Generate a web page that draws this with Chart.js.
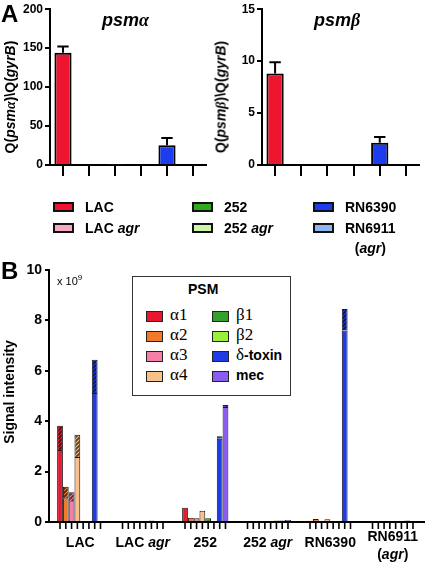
<!DOCTYPE html>
<html><head><meta charset="utf-8">
<script src="https://cdn.jsdelivr.net/npm/chart.js@4/dist/chart.umd.min.js"></script>
<style>
body{margin:0;width:425px;height:563px;position:relative;background:#fff;font-family:'Liberation Sans',Arial,Helvetica,sans-serif;overflow:hidden;color:#000}
canvas{position:absolute}
.abs{position:absolute;white-space:nowrap}
.rot{position:absolute;transform:translate(-50%,-50%) rotate(-90deg);white-space:nowrap;font-weight:bold}
.lbox{position:absolute;box-sizing:border-box;border:2px solid #111;width:21px;height:10px}
.ltxt{position:absolute;font-weight:bold;font-size:14px;line-height:20px}
.pbox{position:absolute;box-sizing:border-box;border:1px solid #222;width:17px;height:11px}
.ptxt{position:absolute;font-size:14px;line-height:20px;font-weight:bold}
.gr{font-family:'Liberation Serif','Times New Roman',serif;font-weight:normal;font-size:17px}
</style></head><body>
<canvas id="a1" width="212" height="185" style="left:0;top:0"></canvas>
<canvas id="a2" width="213" height="185" style="left:212px;top:0"></canvas>
<canvas id="b" width="425" height="308" style="left:0;top:255px"></canvas>

<div class="abs" style="left:1px;top:0px;font-weight:bold;font-size:24px">A</div>
<div class="abs" style="left:1px;top:257px;font-weight:bold;font-size:24px">B</div>
<div class="abs" style="left:102px;top:10px;font-weight:bold;font-style:italic;font-size:18px">psm<span style="font-family:'Liberation Serif',serif">α</span></div>
<div class="abs" style="left:314px;top:10px;font-weight:bold;font-style:italic;font-size:18px">psm<span style="font-family:'Liberation Serif',serif">β</span></div>
<div class="rot" style="left:10px;top:97px;font-size:14px">Q(<i>psm</i><i style="font-family:'Liberation Serif',serif">α</i>)\Q(<i>gyrB</i>)</div>
<div class="rot" style="left:221px;top:97px;font-size:14px">Q(<i>psm</i><i style="font-family:'Liberation Serif',serif">β</i>)\Q(<i>gyrB</i>)</div>
<div class="rot" style="left:9px;top:392px;font-size:14px">Signal intensity</div>
<div class="abs" style="left:57px;top:273px;font-size:11px">x 10<sup style="font-size:8px">9</sup></div>

<div id="legA"></div>
<div class="abs" style="left:132px;top:276px;width:159px;height:120px;box-sizing:border-box;border:1px solid #333;background:#fff"></div>
<div class="abs" style="left:188px;top:281px;font-weight:bold;font-size:14px">PSM</div>
<div id="legB"></div>

<script>
// ---------- Panel A data ----------
const strains = ['LAC', 'LAC agr', '252', '252 agr', 'RN6390', 'RN6911 (agr)'];
const strainColors = ['#EE1530', '#F6A8C4', '#2EAA1C', '#CCF7A8', '#1C3CF0', '#8EB6F2'];
const psmAlphaLevel = [144, 0, 0.8, 0, 25.5, 0];
const psmAlphaErr = [8, 0, 0, 0, 9, 0];
const psmBetaLevel = [8.8, 0, 0, 0, 2.15, 0];
const psmBetaErr = [1.1, 0, 0, 0, 0.55, 0];
const psmAlphaTicks = [0, 50, 100, 150, 200];
const psmBetaTicks = [0, 5, 10, 15];

// ---------- Panel B data (x 10^9) ----------
const groups = ['LAC', 'LAC agr', '252', '252 agr', 'RN6390', ['RN6911', '(agr)']];
const psmNames = ['α1', 'α2', 'α3', 'α4', 'β1', 'β2', 'δ-toxin', 'mec'];
const psmColors = ['#E8172F', '#F07A2A', '#F480A8', '#FAC08C', '#34A02C', '#9AF03A', '#1F3BE8', '#8B5CF0'];
const alpha1Main = [2.86, 0.04, 0.57, 0.03, 0.05, 0.03];
const alpha1Hatch = [0.96, 0, 0, 0, 0, 0];
const alpha2Main = [0.94, 0.03, 0.17, 0.03, 0.12, 0.03];
const alpha2Hatch = [0.46, 0, 0, 0, 0, 0];
const alpha3Main = [0.82, 0.04, 0.15, 0.03, 0.05, 0.03];
const alpha3Hatch = [0.36, 0, 0, 0, 0, 0];
const alpha4Main = [2.58, 0.03, 0.45, 0.03, 0.11, 0.03];
const alpha4Hatch = [0.88, 0, 0, 0, 0, 0];
const beta1Main = [0.04, 0.04, 0.15, 0.04, 0.04, 0.03];
const beta1Hatch = [0, 0, 0, 0, 0, 0];
const beta2Main = [0.04, 0.06, 0.04, 0.06, 0.03, 0.03];
const beta2Hatch = [0, 0, 0, 0, 0, 0];
const deltaMain = [5.12, 0.04, 3.30, 0.06, 7.60, 0.06];
const deltaHatch = [1.32, 0, 0.10, 0, 0.85, 0];
const mecMain = [0, 0.03, 4.56, 0.08, 0.03, 0.03];
const mecHatch = [0, 0, 0.08, 0, 0, 0];
const signalTicks = [0, 2, 4, 6, 8, 10];

const mainSeries = [alpha1Main, alpha2Main, alpha3Main, alpha4Main, beta1Main, beta2Main, deltaMain, mecMain];
const hatchSeries = [alpha1Hatch, alpha2Hatch, alpha3Hatch, alpha4Hatch, beta1Hatch, beta2Hatch, deltaHatch, mecHatch];

const FONT = "'Liberation Sans', Arial, Helvetica, sans-serif";

// ---------- HTML legends ----------
(function(){
  const legA = document.getElementById('legA');
  const cols = [53, 192, 313];
  const labelsHtml = ['LAC', 'LAC <i>agr</i>', '252', '252 <i>agr</i>', 'RN6390', '<div style="text-align:center">RN6911<br>(<i>agr</i>)</div>'];
  for (let i = 0; i < 6; i++) {
    const c = Math.floor(i / 2), r = i % 2;
    const box = document.createElement('div');
    box.className = 'lbox';
    box.style.left = cols[c] + 'px'; box.style.top = (202 + r * 21) + 'px';
    box.style.background = strainColors[i];
    legA.appendChild(box);
    const t = document.createElement('div');
    t.className = 'ltxt';
    t.style.left = (cols[c] + 32) + 'px'; t.style.top = (197 + r * 21) + 'px';
    t.innerHTML = labelsHtml[i];
    legA.appendChild(t);
  }
  const legB = document.getElementById('legB');
  const bcols = [146, 212];
  for (let i = 0; i < 8; i++) {
    const c = Math.floor(i / 4), r = i % 4;
    const y = 316 + r * 20;
    const box = document.createElement('div');
    box.className = 'pbox';
    box.style.left = bcols[c] + 'px'; box.style.top = (y - 5) + 'px';
    box.style.background = psmColors[i];
    legB.appendChild(box);
    const t = document.createElement('div');
    t.className = 'ptxt';
    t.style.left = (bcols[c] + 24) + 'px'; t.style.top = (y - 11) + 'px';
    const n = psmNames[i];
    if (n === 'mec') t.innerHTML = 'mec';
    else if (n === 'δ-toxin') t.innerHTML = '<span class="gr">δ</span>-toxin';
    else t.innerHTML = '<span class="gr">' + n + '</span>';
    legB.appendChild(t);
  }
})();

// ---------- Panel A charts ----------
function errorPlugin(errs) {
  return {
    id: 'errbars',
    afterDatasetsDraw(chart) {
      const ctx = chart.ctx, ys = chart.scales.y;
      const meta = chart.getDatasetMeta(0);
      const vals = chart.data.datasets[0].data;
      ctx.save();
      ctx.strokeStyle = '#000'; ctx.lineWidth = 2;
      meta.data.forEach((el, i) => {
        if (!errs[i]) return;
        const yt = ys.getPixelForValue(vals[i] + errs[i]);
        const cap = el.width * 0.33;
        ctx.beginPath();
        ctx.moveTo(el.x, el.y); ctx.lineTo(el.x, yt);
        ctx.moveTo(el.x - cap, yt); ctx.lineTo(el.x + cap, yt);
        ctx.stroke();
      });
      ctx.restore();
    }
  };
}

function makeA(id, values, errs, ticks, rightPad) {
  const maxV = ticks[ticks.length - 1];
  return new Chart(document.getElementById(id), {
    type: 'bar',
    data: { labels: strains, datasets: [{
      data: values, backgroundColor: strainColors, borderColor: '#000', borderWidth: 2,
      barPercentage: 0.66, categoryPercentage: 1
    }]},
    options: {
      responsive: false, animation: false,
      layout: { padding: { top: 9, right: rightPad, left: 0, bottom: 0 } },
      plugins: { legend: { display: false }, tooltip: { enabled: false } },
      scales: {
        x: {
          grid: { display: true, drawOnChartArea: false, drawTicks: true, tickLength: 11, color: '#000', lineWidth: 2, offset: false },
          border: { color: '#000', width: 2 },
          ticks: { callback: () => '' },
          afterFit(s) { s.height = 20; }
        },
        y: {
          min: 0, max: maxV,
          afterBuildTicks(s) { s.ticks = ticks.map(v => ({ value: v })); },
          ticks: { font: { family: FONT, weight: 'bold', size: 12 }, color: '#000', padding: 2 },
          grid: { drawOnChartArea: false, tickLength: 5, color: '#000', lineWidth: 2 },
          border: { color: '#000', width: 2 },
          afterFit(s) { s.width = 50; }
        }
      }
    },
    plugins: [errorPlugin(errs)]
  });
}
makeA('a1', psmAlphaLevel, psmAlphaErr, psmAlphaTicks, 6);
makeA('a2', psmBetaLevel, psmBetaErr, psmBetaTicks, 6);

// ---------- Panel B chart ----------
function darken(hex, f) {
  const n = parseInt(hex.slice(1), 16);
  const r = Math.round(((n >> 16) & 255) * f), g = Math.round(((n >> 8) & 255) * f), b = Math.round((n & 255) * f);
  return 'rgb(' + r + ',' + g + ',' + b + ')';
}
function hatchPattern(color) {
  const s = 4;
  const c = document.createElement('canvas'); c.width = s; c.height = s;
  const g = c.getContext('2d');
  g.fillStyle = darken(color, 0.35); g.fillRect(0, 0, s, s);
  g.strokeStyle = color; g.lineWidth = 1.1;
  g.beginPath();
  for (let o = -s; o <= s; o += s) { g.moveTo(o, s); g.lineTo(o + s, 0); }
  g.stroke();
  return g.createPattern(c, 'repeat');
}

const bDatasets = [];
psmNames.forEach((name, k) => {
  bDatasets.push({
    label: name, data: mainSeries[k], backgroundColor: psmColors[k],
    borderColor: '#1a1a1a', borderWidth: 1, stack: 's' + k,
    categoryPercentage: 0.74, barPercentage: 1
  });
  bDatasets.push({
    label: name + ' (hatched)', data: hatchSeries[k].map(v => v || null), backgroundColor: hatchPattern(psmColors[k]),
    borderColor: '#1a1a1a', borderWidth: 1, stack: 's' + k,
    categoryPercentage: 0.74, barPercentage: 1
  });
});

const groupAxisPlugin = {
  id: 'groupAxis',
  afterDraw(chart) {
    const ctx = chart.ctx, xs = chart.scales.x, ys = chart.scales.y;
    const y0 = ys.getPixelForValue(0);
    ctx.save();
    ctx.strokeStyle = '#000'; ctx.lineWidth = 1.6;
    chart.data.datasets.forEach((ds, di) => {
      if (di % 2) return;
      chart.getDatasetMeta(di).data.forEach(el => {
        ctx.beginPath(); ctx.moveTo(el.x, y0 + 1); ctx.lineTo(el.x, y0 + 7); ctx.stroke();
      });
    });
    ctx.fillStyle = '#000';
    ctx.textBaseline = 'middle';
    groups.forEach((lab, i) => {
      const x = xs.getPixelForTick(i);
      const lines = Array.isArray(lab) ? lab : [lab];
      const startY = lines.length > 1 ? y0 + 15 : y0 + 21;
      lines.forEach((line, li) => {
        const parts = line.split(/(agr)/).filter(p => p.length);
        const fonts = parts.map(p => (p === 'agr' ? 'italic bold 14px ' : 'bold 14px ') + FONT);
        let w = 0;
        parts.forEach((p, j) => { ctx.font = fonts[j]; w += ctx.measureText(p).width; });
        let cx = x - w / 2;
        ctx.textAlign = 'left';
        parts.forEach((p, j) => { ctx.font = fonts[j]; ctx.fillText(p, cx, startY + li * 18); cx += ctx.measureText(p).width; });
      });
    });
    ctx.restore();
  }
};

new Chart(document.getElementById('b'), {
  type: 'bar',
  data: { labels: groups.map(g => Array.isArray(g) ? g.join(' ') : g), datasets: bDatasets },
  options: {
    responsive: false, animation: false,
    layout: { padding: { top: 15, right: 1, left: 0, bottom: 0 } },
    plugins: { legend: { display: false }, tooltip: { enabled: false } },
    scales: {
      x: {
        stacked: true,
        grid: { display: false },
        border: { color: '#000', width: 2 },
        ticks: { callback: () => '' },
        afterFit(s) { s.height = 41; }
      },
      y: {
        stacked: true, min: 0, max: 10,
        afterBuildTicks(s) { s.ticks = signalTicks.map(v => ({ value: v })); },
        ticks: { font: { family: FONT, weight: 'bold', size: 14 }, color: '#000', padding: 3 },
        grid: { drawOnChartArea: false, tickLength: 4, color: '#000', lineWidth: 2 },
        border: { color: '#000', width: 2 },
        afterFit(s) { s.width = 49; }
      }
    }
  },
  plugins: [groupAxisPlugin]
});
</script>
</body></html>
